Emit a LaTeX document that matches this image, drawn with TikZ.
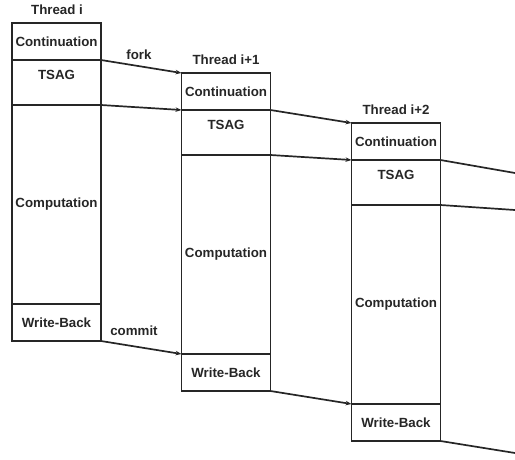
\documentclass[tikz,border=0pt]{standalone}
\usepackage{fontspec}
\setmainfont{Liberation Sans}
\usetikzlibrary{arrows.meta}
\begin{document}
\begin{tikzpicture}[x=1pt,y=-1pt,
  sec/.style={draw=black!85, line width=1.9pt, rectangle, minimum width=89pt, anchor=north west, inner sep=0pt, outer sep=0pt},
  lbl/.style={font=\fontsize{13.3}{15}\selectfont\bfseries, text=black!85, inner sep=0pt},
  link/.style={draw=black!85, line width=1.7pt, -{Stealth[length=6pt,width=4.5pt]}},
  tail/.style={draw=black!85, line width=1.7pt}]
\useasboundingbox (0,0) rectangle (515,459);
\clip (0,0) rectangle (515,459);
% Thread i
\node[sec, minimum height=37pt] (cont0) at (12,23) {};
\node[sec, minimum height=45pt] (tsag0) at (12,60) {};
\node[sec, minimum height=199pt] (comp0) at (12,105) {};
\node[sec, minimum height=37pt] (wb0) at (12,304) {};
% Thread i+1
\node[sec, minimum height=37pt] (cont1) at (181.5,73) {};
\node[sec, minimum height=45pt] (tsag1) at (181.5,110) {};
\node[sec, minimum height=199pt] (comp1) at (181.5,155) {};
\node[sec, minimum height=37pt] (wb1) at (181.5,354) {};
% Thread i+2
\node[sec, minimum height=37pt] (cont2) at (351.5,123) {};
\node[sec, minimum height=45pt] (tsag2) at (351.5,160) {};
\node[sec, minimum height=199pt] (comp2) at (351.5,205) {};
\node[sec, minimum height=37pt] (wb2) at (351.5,404) {};
% labels
\node[lbl] (th0) at (57,10) {Thread i};
\node[lbl] (th1) at (226,60) {Thread i+1};
\node[lbl] (th2) at (396,110) {Thread i+2};
\foreach \k in {0,1,2}{
  \node[lbl] at ([yshift=-15pt]tsag\k.north) {TSAG};
  \node[lbl] at (cont\k.center) {Continuation};
  \node[lbl] at (comp\k.center) {Computation};
  \node[lbl] at (wb\k.center) {Write-Back};
}
\node[lbl] (fork) at (139,55) {fork};
\node[lbl] (commit) at (134,331) {commit};
% connectors
\draw[link] (cont0.south east) -- (cont1.north west);
\draw[link] (tsag0.south east) -- (cont1.south west);
\draw[link] (wb0.south east) -- (wb1.north west);
\draw[link] (cont1.south east) -- (cont2.north west);
\draw[link] (tsag1.south east) -- (cont2.south west);
\draw[link] (wb1.south east) -- (wb2.north west);
\coordinate (e1) at (515,173);
\coordinate (e2) at (515,210);
\coordinate (e3) at (515,453);
\draw[tail] (cont2.south east) -- (e1);
\draw[tail] (tsag2.south east) -- (e2);
\draw[tail] (wb2.south east) -- (e3);
\end{tikzpicture}
\end{document}
